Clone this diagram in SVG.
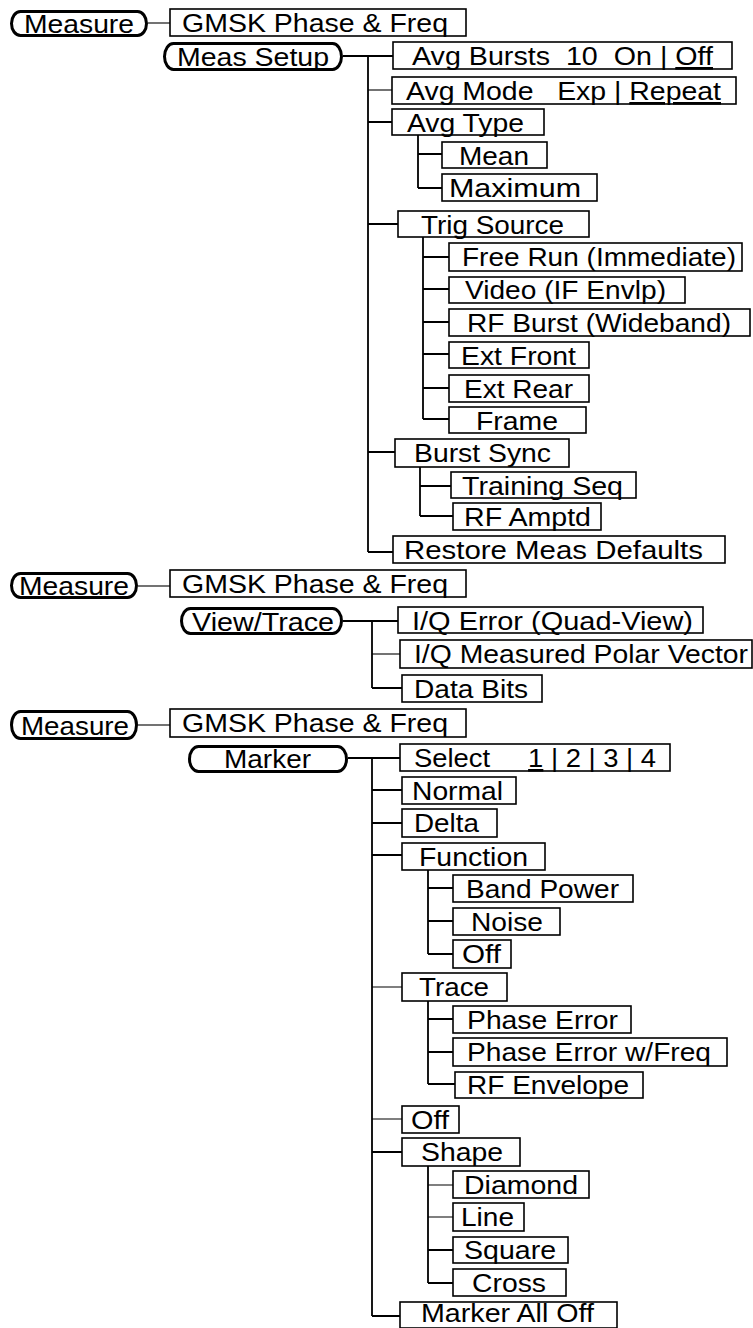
<svg xmlns="http://www.w3.org/2000/svg" width="753" height="1328" viewBox="0 0 753 1328">
<style>
.box{fill:#fff;stroke:#000;stroke-width:1.6}
.pill{fill:#fff;stroke:#000;stroke-width:3}
.t{font-family:"Liberation Sans",Arial,sans-serif;font-size:26px;fill:#000}
.c{fill:none;stroke:#000;stroke-width:1.8}
.c2{fill:none;stroke:#000;stroke-width:1.1}
.u{text-decoration:underline}
</style>
<rect width="753" height="1328" fill="#fff"/>
<g id="connectors">
<path class="c2" d="M148 23H170"/>
<path class="c" d="M343 56H368M368 56V552M368 56H393M368 122H392M368 224H398M368 452H395M368 552H393"/>
<path class="c2" d="M368 90H392"/>
<path class="c" d="M418 135V188M418 154H442M418 188H442"/>
<path class="c" d="M423 237V419M423 257H449M423 289H449M423 322H449M423 354H449M423 388H449M423 419H449"/>
<path class="c" d="M420 467V516M420 486H451M420 516H453"/>
<path class="c2" d="M138 586H170"/>
<path class="c" d="M343 621H372M372 621V688M372 621H398M372 688H402"/>
<path class="c2" d="M372 654H400"/>
<path class="c2" d="M138 725H170"/>
<path class="c" d="M348 758H372M372 758V1316M372 758H400M372 790H402M372 823H402M372 855H402M372 1152H402M372 1316H400"/>
<path class="c2" d="M372 987H402M372 1119H402"/>
<path class="c" d="M428 870V954M428 888H453M428 921H453M428 954H453"/>
<path class="c" d="M428 1001V1084M428 1019H453M428 1052H453M428 1084H455"/>
<path class="c" d="M428 1166V1283M428 1250H453M428 1283H453"/>
<path class="c2" d="M428 1185H453M428 1217H453"/>
</g>
<g id="measure1"><rect class="pill" x="11.5" y="11.5" width="135" height="24" rx="9" ry="12"/><text class="t" x="24" y="33" textLength="110" lengthAdjust="spacingAndGlyphs">Measure</text></g>
<g id="gmsk1"><rect class="box" x="170" y="9" width="296" height="27"/><text class="t" x="182" y="32" textLength="266" lengthAdjust="spacingAndGlyphs">GMSK Phase &amp; Freq</text></g>
<g id="meassetup"><rect class="pill" x="164.5" y="43.5" width="177" height="26" rx="9" ry="13"/><text class="t" x="177" y="66" textLength="152" lengthAdjust="spacingAndGlyphs">Meas Setup</text></g>
<g id="avgbursts"><rect class="box" x="393" y="42" width="339" height="27"/><text class="t" x="412" y="65" textLength="301" lengthAdjust="spacingAndGlyphs" xml:space="preserve">Avg Bursts  10  On | <tspan class="u">Off</tspan></text></g>
<g id="avgmode"><rect class="box" x="392" y="77" width="344" height="27"/><text class="t" x="406" y="100" textLength="315" lengthAdjust="spacingAndGlyphs" xml:space="preserve">Avg Mode   Exp | <tspan class="u">Repeat</tspan></text></g>
<g id="avgtype"><rect class="box" x="392" y="109" width="152" height="26"/><text class="t" x="407" y="132" textLength="117" lengthAdjust="spacingAndGlyphs">Avg Type</text></g>
<g id="mean"><rect class="box" x="442" y="142" width="105" height="26"/><text class="t" x="459" y="165" textLength="70" lengthAdjust="spacingAndGlyphs">Mean</text></g>
<g id="maximum"><rect class="box" x="442" y="174" width="155" height="27"/><text class="t" x="449" y="197" textLength="132" lengthAdjust="spacingAndGlyphs">Maximum</text></g>
<g id="trigsource"><rect class="box" x="398" y="211" width="191" height="26"/><text class="t" x="421" y="234" textLength="143" lengthAdjust="spacingAndGlyphs">Trig Source</text></g>
<g id="freerun"><rect class="box" x="449" y="243" width="293" height="28"/><text class="t" x="462" y="266" textLength="274" lengthAdjust="spacingAndGlyphs">Free Run (Immediate)</text></g>
<g id="video"><rect class="box" x="449" y="277" width="236" height="26"/><text class="t" x="465" y="299" textLength="201" lengthAdjust="spacingAndGlyphs">Video (IF Envlp)</text></g>
<g id="rfburst"><rect class="box" x="449" y="309" width="301" height="27"/><text class="t" x="467" y="332" textLength="264" lengthAdjust="spacingAndGlyphs">RF Burst (Wideband)</text></g>
<g id="extfront"><rect class="box" x="449" y="342" width="140" height="26"/><text class="t" x="461" y="365" textLength="115" lengthAdjust="spacingAndGlyphs">Ext Front</text></g>
<g id="extrear"><rect class="box" x="449" y="375" width="140" height="27"/><text class="t" x="464" y="398" textLength="109" lengthAdjust="spacingAndGlyphs">Ext Rear</text></g>
<g id="frame"><rect class="box" x="449" y="407" width="137" height="26"/><text class="t" x="476" y="430" textLength="82" lengthAdjust="spacingAndGlyphs">Frame</text></g>
<g id="burstsync"><rect class="box" x="395" y="439" width="174" height="28"/><text class="t" x="414" y="462" textLength="137" lengthAdjust="spacingAndGlyphs">Burst Sync</text></g>
<g id="trainingseq"><rect class="box" x="451" y="472" width="185" height="26"/><text class="t" x="462" y="495" textLength="161" lengthAdjust="spacingAndGlyphs">Training Seq</text></g>
<g id="rfamptd"><rect class="box" x="453" y="503" width="148" height="27"/><text class="t" x="464" y="526" textLength="127" lengthAdjust="spacingAndGlyphs">RF Amptd</text></g>
<g id="restore"><rect class="box" x="393" y="536" width="332" height="27"/><text class="t" x="404" y="559" textLength="299" lengthAdjust="spacingAndGlyphs">Restore Meas Defaults</text></g>
<g id="measure2"><rect class="pill" x="11.5" y="573.5" width="125" height="24" rx="9" ry="12"/><text class="t" x="19" y="595" textLength="110" lengthAdjust="spacingAndGlyphs">Measure</text></g>
<g id="gmsk2"><rect class="box" x="170" y="570" width="296" height="27"/><text class="t" x="182" y="593" textLength="266" lengthAdjust="spacingAndGlyphs">GMSK Phase &amp; Freq</text></g>
<g id="viewtrace"><rect class="pill" x="181.5" y="608.5" width="160" height="25" rx="9" ry="12.5"/><text class="t" x="192" y="631" textLength="142" lengthAdjust="spacingAndGlyphs">View/Trace</text></g>
<g id="iqerror"><rect class="box" x="398" y="607" width="305" height="26"/><text class="t" x="412" y="630" textLength="281" lengthAdjust="spacingAndGlyphs">I/Q Error (Quad-View)</text></g>
<g id="iqmeasured"><rect class="box" x="400" y="640" width="352" height="28"/><text class="t" x="414" y="663" textLength="334" lengthAdjust="spacingAndGlyphs">I/Q Measured Polar Vector</text></g>
<g id="databits"><rect class="box" x="402" y="675" width="140" height="27"/><text class="t" x="414" y="698" textLength="114" lengthAdjust="spacingAndGlyphs">Data Bits</text></g>
<g id="measure3"><rect class="pill" x="11.5" y="711.5" width="125" height="27" rx="9" ry="13.5"/><text class="t" x="21" y="735" textLength="108" lengthAdjust="spacingAndGlyphs">Measure</text></g>
<g id="gmsk3"><rect class="box" x="170" y="709" width="296" height="28"/><text class="t" x="182" y="732" textLength="266" lengthAdjust="spacingAndGlyphs">GMSK Phase &amp; Freq</text></g>
<g id="marker"><rect class="pill" x="189.5" y="746.5" width="157" height="25" rx="9" ry="12.5"/><text class="t" x="224" y="768" textLength="87" lengthAdjust="spacingAndGlyphs">Marker</text></g>
<g id="select"><rect class="box" x="400" y="744" width="270" height="27"/><text class="t" x="414" y="767" textLength="242" lengthAdjust="spacingAndGlyphs" xml:space="preserve">Select     <tspan class="u">1</tspan> | 2 | 3 | 4</text></g>
<g id="normal"><rect class="box" x="402" y="777" width="114" height="27"/><text class="t" x="412" y="800" textLength="91" lengthAdjust="spacingAndGlyphs">Normal</text></g>
<g id="delta"><rect class="box" x="402" y="809" width="95" height="28"/><text class="t" x="414" y="832" textLength="65" lengthAdjust="spacingAndGlyphs">Delta</text></g>
<g id="function"><rect class="box" x="402" y="843" width="143" height="27"/><text class="t" x="419" y="866" textLength="109" lengthAdjust="spacingAndGlyphs">Function</text></g>
<g id="bandpower"><rect class="box" x="453" y="875" width="180" height="27"/><text class="t" x="466" y="898" textLength="153" lengthAdjust="spacingAndGlyphs">Band Power</text></g>
<g id="noise"><rect class="box" x="453" y="908" width="107" height="27"/><text class="t" x="471" y="931" textLength="72" lengthAdjust="spacingAndGlyphs">Noise</text></g>
<g id="funcoff"><rect class="box" x="453" y="940" width="58" height="28"/><text class="t" x="462" y="963" textLength="39" lengthAdjust="spacingAndGlyphs">Off</text></g>
<g id="trace"><rect class="box" x="402" y="973" width="105" height="28"/><text class="t" x="419" y="996" textLength="70" lengthAdjust="spacingAndGlyphs">Trace</text></g>
<g id="phaseerror"><rect class="box" x="453" y="1006" width="178" height="27"/><text class="t" x="467" y="1029" textLength="151" lengthAdjust="spacingAndGlyphs">Phase Error</text></g>
<g id="phaseerrorfreq"><rect class="box" x="453" y="1038" width="274" height="28"/><text class="t" x="467" y="1061" textLength="244" lengthAdjust="spacingAndGlyphs">Phase Error w/Freq</text></g>
<g id="rfenvelope"><rect class="box" x="455" y="1072" width="188" height="26"/><text class="t" x="467" y="1094" textLength="162" lengthAdjust="spacingAndGlyphs">RF Envelope</text></g>
<g id="markeroff"><rect class="box" x="402" y="1106" width="57" height="27"/><text class="t" x="411" y="1129" textLength="38" lengthAdjust="spacingAndGlyphs">Off</text></g>
<g id="shape"><rect class="box" x="402" y="1138" width="118" height="28"/><text class="t" x="421" y="1161" textLength="82" lengthAdjust="spacingAndGlyphs">Shape</text></g>
<g id="diamond"><rect class="box" x="453" y="1171" width="136" height="27"/><text class="t" x="464" y="1194" textLength="114" lengthAdjust="spacingAndGlyphs">Diamond</text></g>
<g id="line"><rect class="box" x="453" y="1203" width="71" height="28"/><text class="t" x="461" y="1226" textLength="53" lengthAdjust="spacingAndGlyphs">Line</text></g>
<g id="square"><rect class="box" x="453" y="1237" width="115" height="26"/><text class="t" x="464" y="1259" textLength="92" lengthAdjust="spacingAndGlyphs">Square</text></g>
<g id="cross"><rect class="box" x="453" y="1269" width="113" height="27"/><text class="t" x="472" y="1292" textLength="74" lengthAdjust="spacingAndGlyphs">Cross</text></g>
<g id="markeralloff"><rect class="box" x="400" y="1302" width="217" height="26"/><text class="t" x="421" y="1322" font-size="25" textLength="173" lengthAdjust="spacingAndGlyphs">Marker All Off</text></g>
</svg>
